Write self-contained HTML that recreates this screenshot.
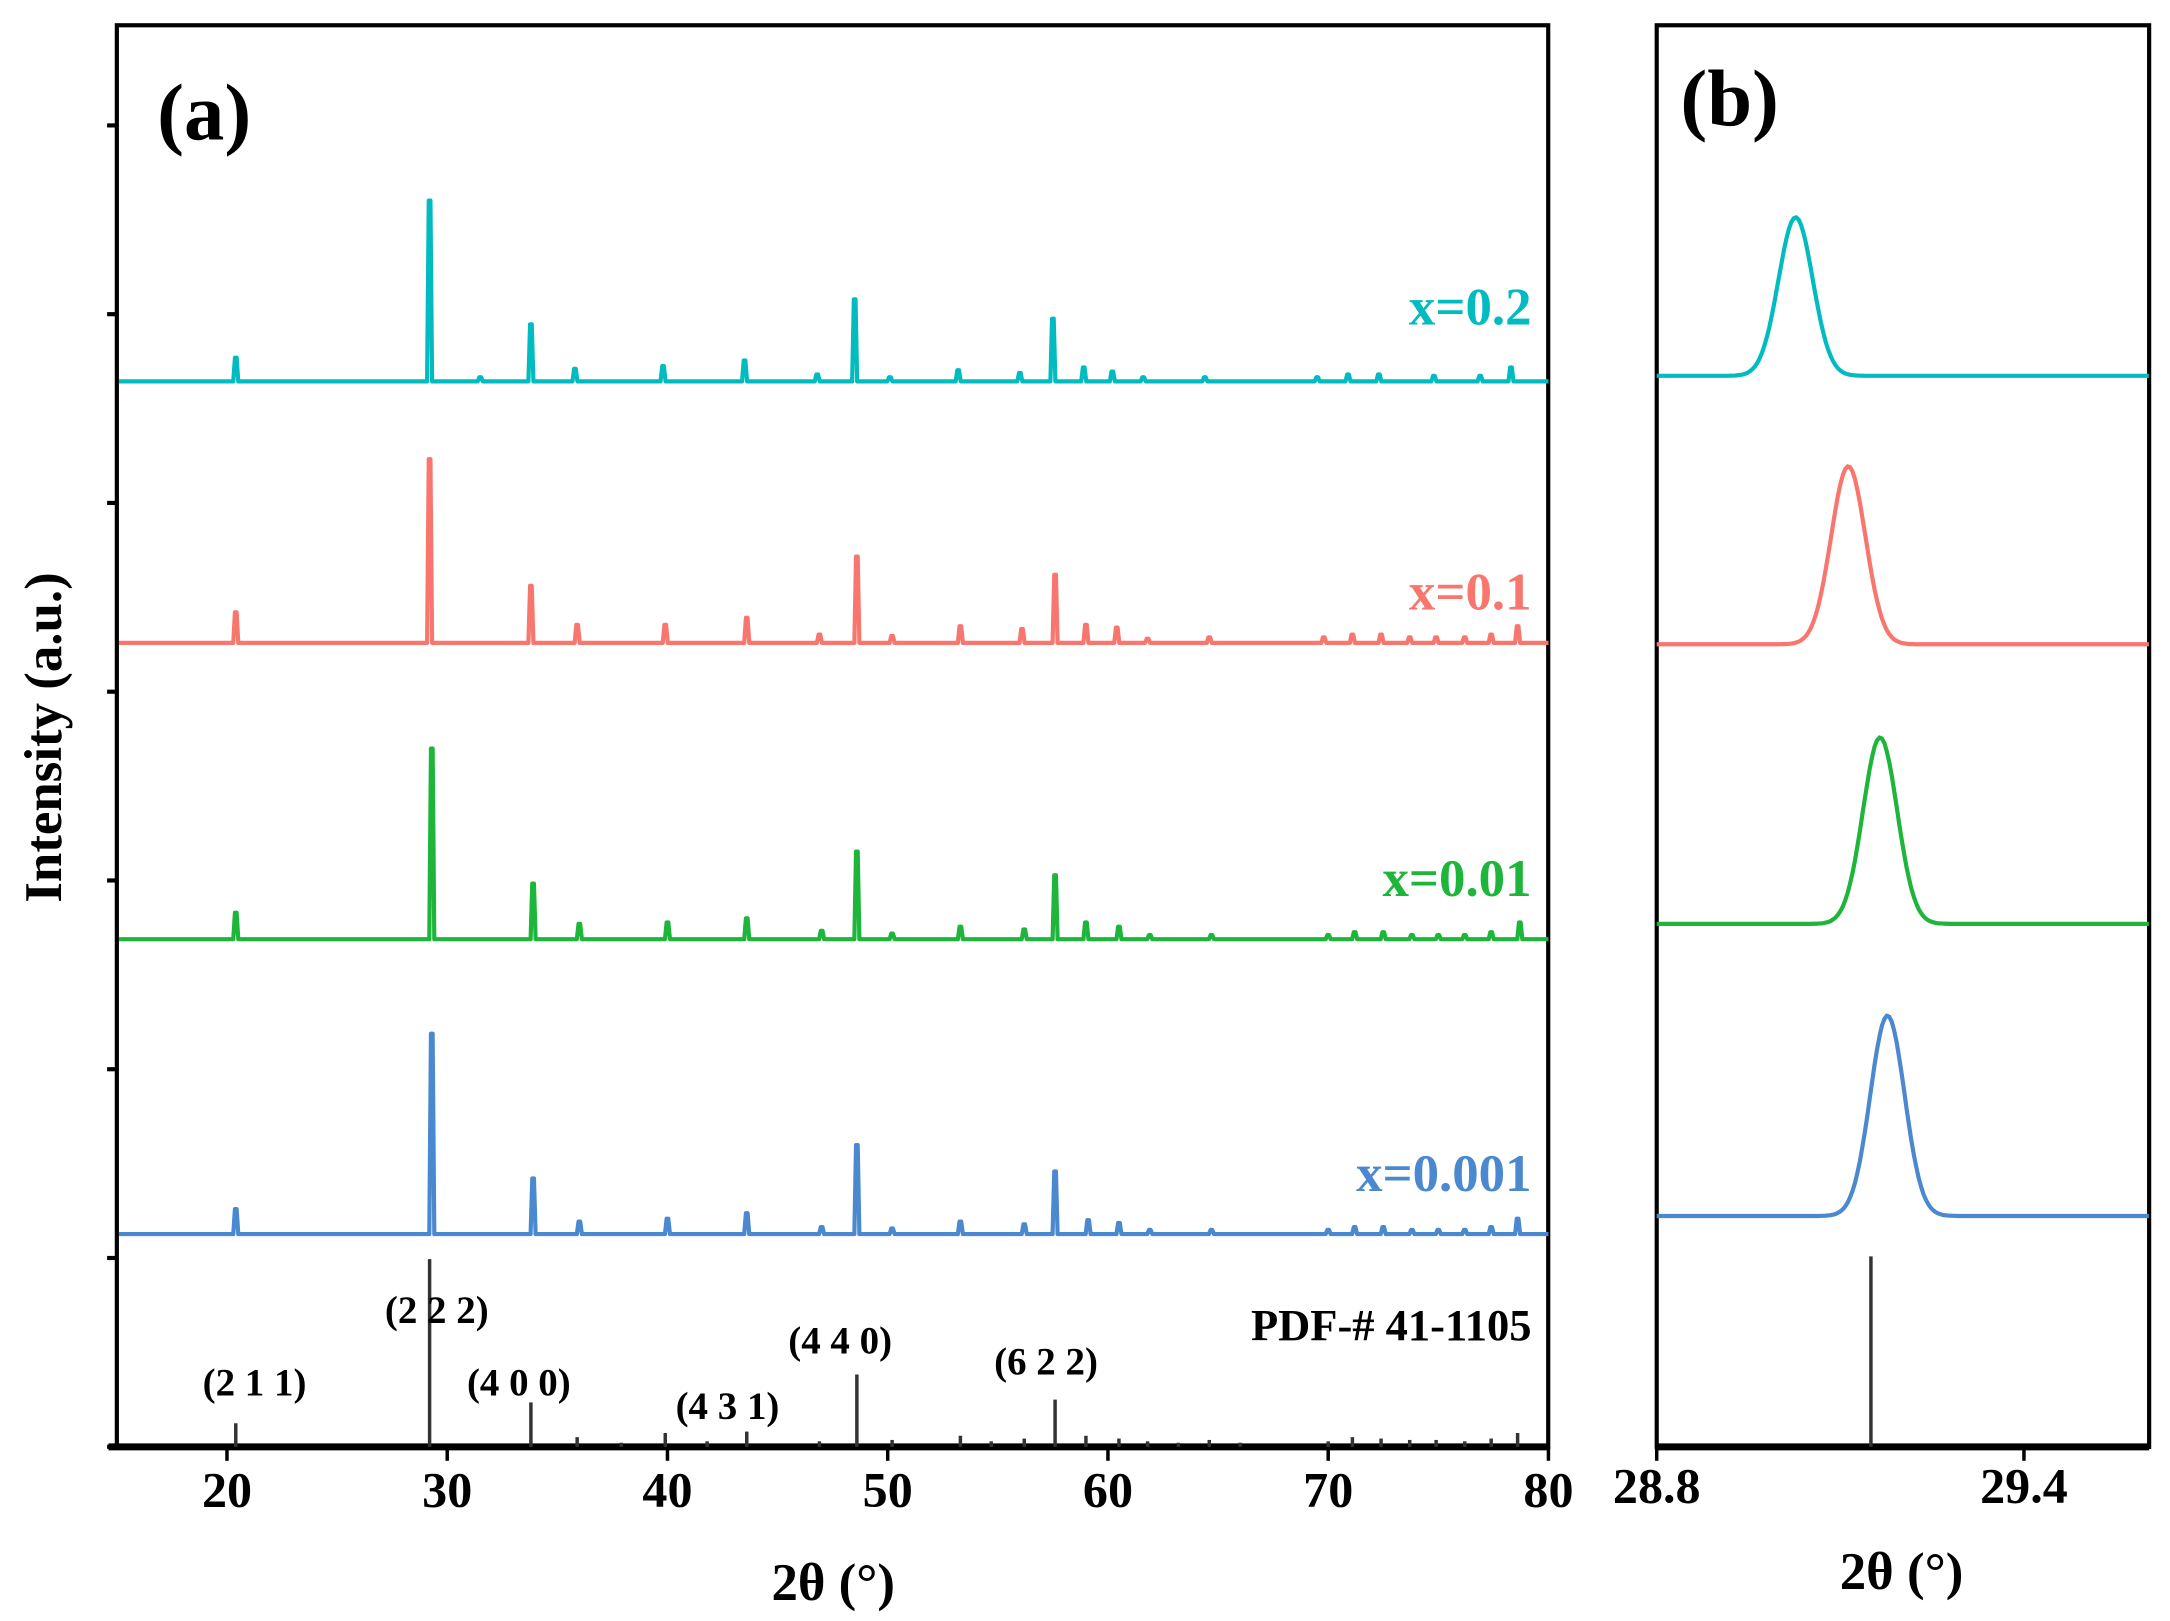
<!DOCTYPE html>
<html><head><meta charset="utf-8"><style>
html,body{margin:0;padding:0;background:#fff;}
svg{display:block;}
text{font-family:"Liberation Serif",serif;font-weight:bold;fill:#000;}
</style></head><body>
<svg id="chart" width="2170" height="1621" viewBox="0 0 1560 1165" xmlns="http://www.w3.org/2000/svg">
<g id="pa"></g>
<g id="pb"></g>
</svg>
<script>
// Panel (a) data
const seriesNames = ["x=0.2","x=0.1","x=0.01","x=0.001"];
const seriesColors = ["#00bcc0","#f8766d","#1db53a","#4a88cf"];
const seriesBaseline = [274,462,675,887];
const peakPos0 = [20.4,29.2,31.5,33.8,35.8,39.8,43.5,46.8,48.5,50.1,53.2,56.0,57.5,58.9,60.2,61.6,64.4,69.5,70.9,72.3,74.8,76.9,78.3];
const peakInt0 = [17,130,3,41,9,11,15,5,59,3,8,6,45,10,7,3,3,3,5,5,4,4,10];
const peakPos1 = [20.4,29.2,33.8,35.9,39.9,43.6,46.9,48.6,50.2,53.3,56.1,57.6,59.0,60.4,61.8,64.6,69.8,71.1,72.4,73.7,74.9,76.2,77.4,78.6];
const peakInt1 = [22,132,41,13,13,18,6,62,5,12,10,49,13,11,3,4,4,6,6,4,4,4,6,12];
const peakPos2 = [20.4,29.3,33.9,36.0,40.0,43.6,47.0,48.6,50.2,53.3,56.2,57.6,59.0,60.5,61.9,64.7,70.0,71.2,72.5,73.8,75.0,76.2,77.4,78.7];
const peakInt2 = [19,137,40,11,12,15,6,63,4,9,7,46,12,9,3,3,3,5,5,3,3,3,5,12];
const peakPos3 = [20.4,29.3,33.9,36.0,40.0,43.6,47.0,48.6,50.2,53.3,56.2,57.6,59.1,60.5,61.9,64.7,70.0,71.2,72.5,73.8,75.0,76.2,77.4,78.6];
const peakInt3 = [18,144,40,9,11,15,5,64,4,9,7,45,10,8,3,3,3,5,5,3,3,3,5,11];
const refPos = [20.4,29.2,33.8,35.9,37.9,39.9,41.8,43.6,46.9,48.6,50.2,53.3,54.7,56.2,57.6,59.0,60.5,61.8,63.2,64.6,66.0,70.0,71.1,72.4,73.7,74.9,76.2,77.4,78.6];
const refInt = [17,135,32,7,3,10,4,11,4,52,5,8,4,6,34,8,6,4,3,5,3,4,7,6,5,5,4,6,10];
const hklLabels = ["(2 1 1)","(2 2 2)","(4 0 0)","(4 3 1)","(4 4 0)","(6 2 2)"];
const hklLabelPos = [[183,1003],[314,951],[373,1003],[523,1020],[604,973],[752,988]];
const xTicksA = [20,30,40,50,60,70,80];
// Panel (b) data
const bPeakPos = [29.027,29.113,29.165,29.177];
const bPeakHeight = [114,128,134,144];
const bBaseline = [270,463,664,874];
const bRefPos = [29.15];
const xTicksB = [28.8,29.4];

const NS="http://www.w3.org/2000/svg";
function el(tag,attrs,parent,txt){const e=document.createElementNS(NS,tag);for(const k in attrs)e.setAttribute(k,attrs[k]);if(txt!==undefined)e.textContent=txt;parent.appendChild(e);return e;}
const pa=document.getElementById('pa'), pb=document.getElementById('pb');

// axis functions
const xa = v => 84 + (v-15)*(1113-163)/60;
const xb = v => 1191 + (v-28.8)*440;

// Panel a frame
let f=el('rect',{x:84,y:18,width:1029,height:1022,fill:'none',stroke:'#000','stroke-width':3},pa);

let ba=el('line',{x1:78,y1:1040,x2:1113,y2:1040,stroke:'#000','stroke-width':5},pa);

for(let i=0;i<8;i++){const y=90+i*135.7;const t=el('line',{x1:77,y1:y,x2:84,y2:y,stroke:'#000','stroke-width':3},pa);
}
xTicksA.forEach(v=>{const t=el('line',{x1:xa(v),y1:1040,x2:xa(v),y2:1050,stroke:'#000','stroke-width':2.5},pa);

const l=el('text',{x:xa(v),y:1083,'font-size':36,'text-anchor':'middle'},pa,String(v));
});

const allPos=[peakPos0,peakPos1,peakPos2,peakPos3], allInt=[peakInt0,peakInt1,peakInt2,peakInt3];
for(let s=0;s<4;s++){
  const b=seriesBaseline[s]; let d=`M${xa(15.1)},${b}`;
  allPos[s].forEach((p,i)=>{const x=xa(p),h=allInt[s][i];d+=` L${x-1.8},${b} L${x-0.6},${b-h} L${x+0.6},${b-h} L${x+1.8},${b}`;});
  d+=` L${xa(80)},${b}`;
  const path=el('path',{d:d,fill:'none',stroke:seriesColors[s],'stroke-width':3,'stroke-linejoin':'round'},pa);
  
  const lab=el('text',{x:1101,y:[233,438,644,856][s],'font-size':38,'text-anchor':'end',style:'fill:'+seriesColors[s]},pa,seriesNames[s]);
  
}
refPos.forEach((p,i)=>{const t=el('line',{x1:xa(p),y1:1040,x2:xa(p),y2:1040-refInt[i],stroke:'#333','stroke-width':2.5},pa);
});
hklLabels.forEach((s,i)=>{const t=el('text',{x:hklLabelPos[i][0],y:hklLabelPos[i][1],'font-size':28,'text-anchor':'middle'},pa,s);
});
let pdf=el('text',{x:1101,y:963,'font-size':32,'text-anchor':'end'},pa,'PDF-# 41-1105');

let ta=el('text',{x:113,y:100,'font-size':58},pa,'(a)');

let xt=el('text',{x:599,y:1150,'font-size':38,'text-anchor':'middle'},pa,'2θ (°)');

let yt=el('text',{x:0,y:0,'font-size':38,'text-anchor':'middle',transform:'translate(44,530) rotate(-90)'},pa,'Intensity (a.u.)');


// Panel b
let fb=el('rect',{x:1191,y:18,width:354,height:1022,fill:'none',stroke:'#000','stroke-width':3},pb);

let bb=el('line',{x1:1191,y1:1040,x2:1545,y2:1040,stroke:'#000','stroke-width':5},pb);

xTicksB.forEach(v=>{const t=el('line',{x1:xb(v),y1:1040,x2:xb(v),y2:1050,stroke:'#000','stroke-width':2.5},pb);

const l=el('text',{x:xb(v),y:1080,'font-size':36,'text-anchor':'middle'},pb,v.toFixed(1));
});
for(let s=0;s<4;s++){
  const b=bBaseline[s]; let d='';
  for(let v=28.8;v<=29.605;v+=0.004){const g=bPeakHeight[s]*Math.exp(-Math.pow((v-bPeakPos[s])/0.028,2)/2);
    d+=(d?' L':'M')+xb(v).toFixed(1)+','+(b-g).toFixed(1);}
  const path=el('path',{d:d,fill:'none',stroke:seriesColors[s],'stroke-width':3},pb);
  
}
bRefPos.forEach(p=>{const t=el('line',{x1:xb(p),y1:1040,x2:xb(p),y2:903,stroke:'#333','stroke-width':2.5},pb);
});
let tb=el('text',{x:1208,y:90,'font-size':58},pb,'(b)');

let xtb=el('text',{x:1367,y:1142,'font-size':38,'text-anchor':'middle'},pb,'2θ (°)');

</script>
</body></html>
